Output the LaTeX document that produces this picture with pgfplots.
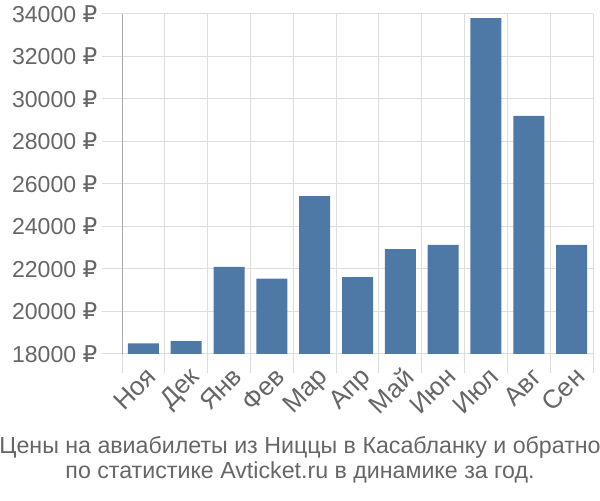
\documentclass[border=0pt]{standalone}
\usepackage{pgfplots}
\pgfplotsset{compat=1.18}
\usepackage{fontspec}
\setmainfont{Liberation Sans}
\newfontfamily\rub{DejaVu Sans}
\definecolor{barblue}{HTML}{4E79A7}
\definecolor{gridgray}{HTML}{DDDDDD}
\definecolor{axgray}{HTML}{AAAAAA}
\definecolor{txtgray}{HTML}{666666}
\begin{document}
\begin{tikzpicture}
\useasboundingbox (0pt,0pt) rectangle (450pt,375pt);
\begin{axis}[
  at={(91.5pt,109.5pt)}, anchor=south west,
  width=353.25pt, height=255pt, scale only axis,
  xmin=-0.5, xmax=10.5, ymin=18000, ymax=34000,
  ytick={18000,20000,...,34000},
  scaled y ticks=false,
  /pgf/number format/assume math mode=true,
  yticklabel={\pgfmathprintnumber[fixed,1000 sep={}]{\tick}~{\rub ₽}},
  ymajorgrids,
  grid style={gridgray, line width=0.75pt},
  xtick={0,...,10},
  xticklabels={Ноя,Дек,Янв,Фев,Мар,Апр,Май,Июн,Июл,Авг,Сен},
  minor xtick={-0.5,0.5,...,10.5},
  xminorgrids,
  minor grid style={gridgray, line width=0.75pt},
  tick align=outside,
  major tick length=15pt,
  minor tick length=14pt,
  major x tick style={draw=none},
  minor x tick style={gridgray, line width=0.75pt},
  y tick style={gridgray, line width=0.75pt},
  axis lines*=left,
  x axis line style={draw=gridgray, line width=0.75pt, -},
  y axis line style={draw=axgray, line width=0.75pt, -},
  yticklabel style={font=\fontsize{17.3}{20}\selectfont, text=txtgray},
  xticklabel style={font=\fontsize{19.5}{22}\selectfont, text=txtgray, rotate=45, anchor=north east, inner sep=1pt, xshift=6.5pt, yshift=4.5pt},
  clip=false,
]
\addplot[ybar, bar width=23.25pt, fill=barblue, draw=none] coordinates {
 (0,18500) (1,18600) (2,22100) (3,21550) (4,25430) (5,21620)
 (6,22940) (7,23130) (8,33810) (9,29200) (10,23130)};
\end{axis}
\node[text=txtgray, font=\fontsize{17.4}{20}\selectfont] at (225pt,39.75pt) {Цены на авиабилеты из Ниццы в Касабланку и обратно};
\node[text=txtgray, font=\fontsize{17.4}{20}\selectfont] at (225pt,21pt) {по статистике Avticket.ru в динамике за год.};
\end{tikzpicture}
\end{document}
